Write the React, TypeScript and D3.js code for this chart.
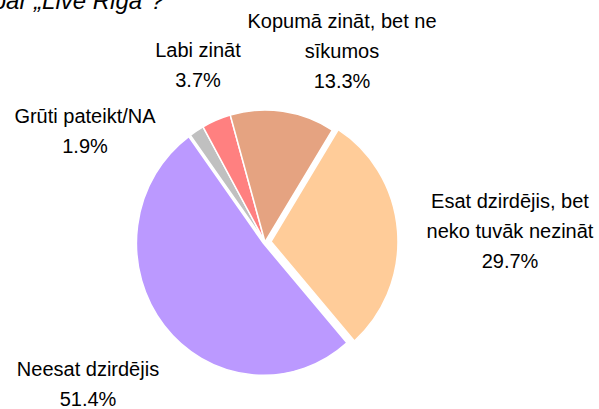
import * as d3 from 'd3';

const categories = [
  'Esat dzirdējis, bet neko tuvāk nezināt',
  'Neesat dzirdējis',
  'Grūti pateikt/NA',
  'Labi zināt',
  'Kopumā zināt, bet ne sīkumos',
];
const shares = [29.7, 51.4, 1.9, 3.7, 13.3];
const labelLines = [
  ['Esat dzirdējis, bet', 'neko tuvāk nezināt'],
  ['Neesat dzirdējis'],
  ['Grūti pateikt/NA'],
  ['Labi zināt'],
  ['Kopumā zināt, bet ne', 'sīkumos'],
];
const colors = ['#FFCC99', '#BB99FF', '#C0C0C0', '#FF8080', '#E5A381'];

// layout
const width = 599;
const height = 409;
const cx = 265;
const cy = 242;
const rx = 127;
const ry = 132;
const explode = [6, 2, 0, 0, 0];
const labelPos = [
  { x: 510, y: 208 },
  { x: 88, y: 376 },
  { x: 85, y: 123 },
  { x: 198, y: 57 },
  { x: 342, y: 28 },
];
const lineH = 30;
const font = '"Liberation Sans", Arial, sans-serif';

export default function App() {
  const start = (32 * Math.PI) / 180;
  const pie = d3
    .pie<number>()
    .sort(null)
    .startAngle(start)
    .endAngle(start + 2 * Math.PI);
  const arcs = pie(shares);
  const arc = d3.arc<d3.PieArcDatum<number>>().innerRadius(0).outerRadius(rx);

  return (
    <svg
      width={width}
      height={height}
      style={{ position: 'absolute', left: 0, top: 0, background: '#fff' }}
      fontFamily={font}
    >
      <text x={164} y={9} textAnchor="end" fontSize={24} fontStyle="italic" fill="#000">
        Cik daudz Jūs zināt par „Live Riga"?
      </text>
      <g transform={`translate(${cx},${cy}) scale(1,${ry / rx})`}>
        {arcs.map((a, i) => {
          const mid = (a.startAngle + a.endAngle) / 2;
          const dx = Math.sin(mid) * explode[i];
          const dy = -Math.cos(mid) * explode[i];
          return (
            <path
              key={categories[i]}
              d={arc(a) || ''}
              transform={`translate(${dx},${dy})`}
              fill={colors[i]}
              stroke="#fff"
              strokeWidth={1.5}
              strokeLinejoin="round"
            />
          );
        })}
      </g>
      {labelLines.map((lines, i) => (
        <text
          key={categories[i]}
          x={labelPos[i].x}
          y={labelPos[i].y}
          textAnchor="middle"
          fontSize={20}
          fill="#000"
        >
          {[...lines, `${d3.format('.1f')(shares[i])}%`].map((t, j) => (
            <tspan key={j} x={labelPos[i].x} dy={j === 0 ? 0 : lineH}>
              {t}
            </tspan>
          ))}
        </text>
      ))}
    </svg>
  );
}
